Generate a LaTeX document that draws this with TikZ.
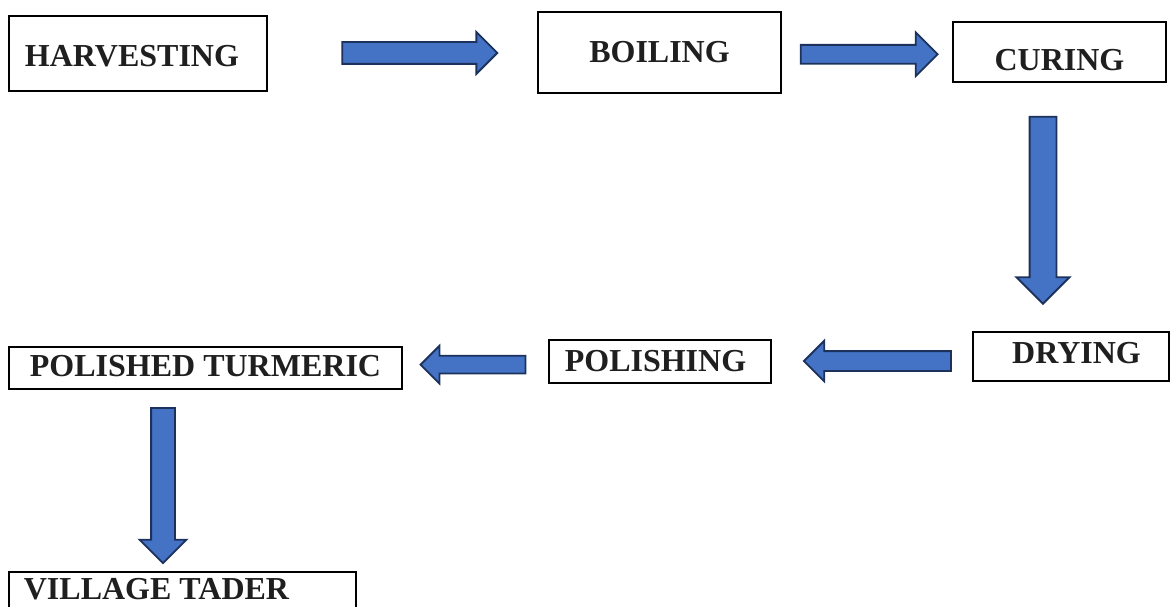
\documentclass[tikz,border=0pt]{standalone}
\usepackage{fontspec}
\setmainfont{Liberation Serif}
\definecolor{arrblue}{RGB}{68,114,196}
\definecolor{arrnavy}{RGB}{28,50,92}
\usetikzlibrary{shapes.arrows}

\begin{document}
\begin{tikzpicture}[x=1pt,y=-1pt,
    every node/.style={font=\fontsize{32}{38}\selectfont\bfseries,text=black!88},
    box/.style={draw=black,line width=2.4pt,inner sep=0pt},
    lbl/.style={inner sep=0pt},
    blk/.style={single arrow,draw=arrnavy,fill=arrblue,line width=1.8pt,
                inner xsep=0pt,single arrow tip angle=90,single arrow head indent=0pt}]

  \useasboundingbox (0,0) rectangle (1171,606);
  \clip (0,0) rectangle (1171,606);

  \node[box,minimum width=258pt,minimum height=75pt,
        label={[lbl,xshift=-6pt,yshift=-2.5pt]center:HARVESTING}] (harv) at (138,53.5) {};
  \node[box,minimum width=243pt,minimum height=81pt,
        label={[lbl]center:BOILING}] (boil) at (659.5,52.5) {};
  \node[box,minimum width=213pt,minimum height=60pt,
        label={[lbl,yshift=-8pt]center:CURING}] (cur) at (1059.5,52) {};

  \node[box,minimum width=196pt,minimum height=49pt,
        label={[lbl,xshift=5.5pt,yshift=3.5pt]center:DRYING}] (dry) at (1071,356.5) {};
  \node[box,minimum width=222pt,minimum height=43pt,
        label={[lbl,xshift=-4.5pt]center:POLISHING}] (pol) at (660,361.5) {};
  \node[box,minimum width=393pt,minimum height=42pt,
        label={[lbl,yshift=2pt]center:POLISHED TURMERIC}] (turm) at (205.5,368) {};

  \node[box,minimum width=347pt,minimum height=52pt,
        label={[lbl,xshift=-26pt,yshift=8.5pt]center:VILLAGE TADER}] (vill) at (182.5,598) {};

  % block arrows
  \path (harv.east) -- (boil.west)
        node[blk,pos=.544,minimum height=155pt,inner ysep=10pt,single arrow head extend=10pt] (a1) {};
  \path (boil.east) -- (cur.west)
        node[blk,pos=.485,yshift=-2pt,minimum height=137pt,inner ysep=8.5pt,single arrow head extend=12.5pt] (a2) {};
  \path (cur.south) -- (cur.south |- dry.north)
        node[blk,pos=.486,xshift=-16.5pt,rotate=-90,minimum height=187pt,inner ysep=12.5pt,single arrow head extend=13pt] (a3) {};
  \path (dry.west) -- (pol.east)
        node[blk,pos=.448,yshift=-2.3pt,rotate=180,minimum height=147pt,inner ysep=9pt,single arrow head extend=10.5pt] (a4) {};
  \path (pol.west) -- (turm.east)
        node[blk,pos=.486,rotate=180,minimum height=105pt,inner ysep=8pt,single arrow head extend=10pt] (a5) {};
  \path (turm.south -| vill.north) -- (vill.north)
        node[blk,pos=.495,xshift=-19.5pt,rotate=-90,minimum height=155pt,inner ysep=11pt,single arrow head extend=11.5pt] (a6) {};
\end{tikzpicture}
\end{document}
